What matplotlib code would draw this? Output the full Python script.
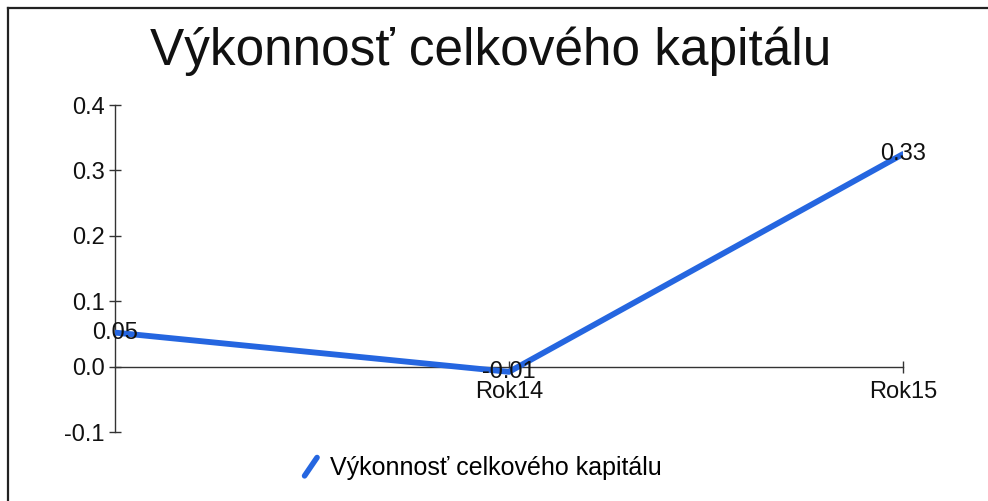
import matplotlib
matplotlib.use("Agg")
import matplotlib.pyplot as plt
from matplotlib.lines import Line2D
from matplotlib.legend_handler import HandlerBase

plt.rcParams['font.family'] = ['Liberation Sans', 'DejaVu Sans']

# data
years = ["Rok13", "Rok14", "Rok15"]
values = [0.052, -0.008, 0.325]
value_labels = ["0.05", "-0.01", "0.33"]
y_ticks = [-0.1, 0.0, 0.1, 0.2, 0.3, 0.4]
series_name = "Výkonnosť celkového kapitálu"
title = "Výkonnosť celkového kapitálu"

blue = "#2566e0"


class SlantHandler(HandlerBase):
    # slanted stroke like the legend icon in the original
    def create_artists(self, legend, orig, xd, yd, w, h, fontsize, trans):
        ln = Line2D([xd + w * 0.3, xd + w * 0.8], [yd - h * 0.05, yd + h * 1.0],
                    color=blue, lw=4, solid_capstyle="round", transform=trans)
        return [ln]


fig = plt.figure(figsize=(9.88, 5.01), dpi=100)
ax = fig.add_axes([0.1164, 0.1377, 0.7976, 0.6527])

x = list(range(len(years)))
line, = ax.plot(x, values, color=blue, lw=4.2, solid_joinstyle="round",
                solid_capstyle="round", label=series_name, zorder=3)

for xi, v, lab in zip(x, values, value_labels):
    ax.annotate(lab, (xi, v), ha="center", va="center", fontsize=17, color="#111111", zorder=4)

ax.set_xlim(0, 2)
ax.set_ylim(-0.1, 0.4)
ax.set_yticks(y_ticks)
ax.set_yticklabels([f"{t:.1f}" for t in y_ticks])
ax.set_xticks(x[1:])
ax.set_xticklabels(years[1:])

ax.spines['top'].set_visible(False)
ax.spines['right'].set_visible(False)
ax.spines['bottom'].set_position(('data', 0))
for s in ['left', 'bottom']:
    ax.spines[s].set_color("#333333")
    ax.spines[s].set_linewidth(1)

ax.tick_params(axis='both', direction='inout', length=9, width=1, color="#333333",
               labelsize=17, labelcolor="#111111")
ax.tick_params(axis='y', pad=3)
ax.tick_params(axis='x', pad=6)

fig.text(0.497, 1 - 51 / 501, title, ha="center", va="center", fontsize=37, color="#111111")

leg = fig.legend(handles=[line], loc="center", bbox_to_anchor=(0.485, 1 - 468 / 501),
                 frameon=False, fontsize=18, handlelength=1.0, handletextpad=0.3,
                 handler_map={Line2D: SlantHandler()})

# outer frame (only the left and top edges are visible in the original)
fig.add_artist(Line2D([8 / 988, 8 / 988], [0, 1 - 8 / 501], color="#222222", lw=1.6,
                      transform=fig.transFigure))
fig.add_artist(Line2D([8 / 988, 1], [1 - 8 / 501, 1 - 8 / 501], color="#222222", lw=1.6,
                      transform=fig.transFigure))

fig.savefig("out.png", dpi=100)
